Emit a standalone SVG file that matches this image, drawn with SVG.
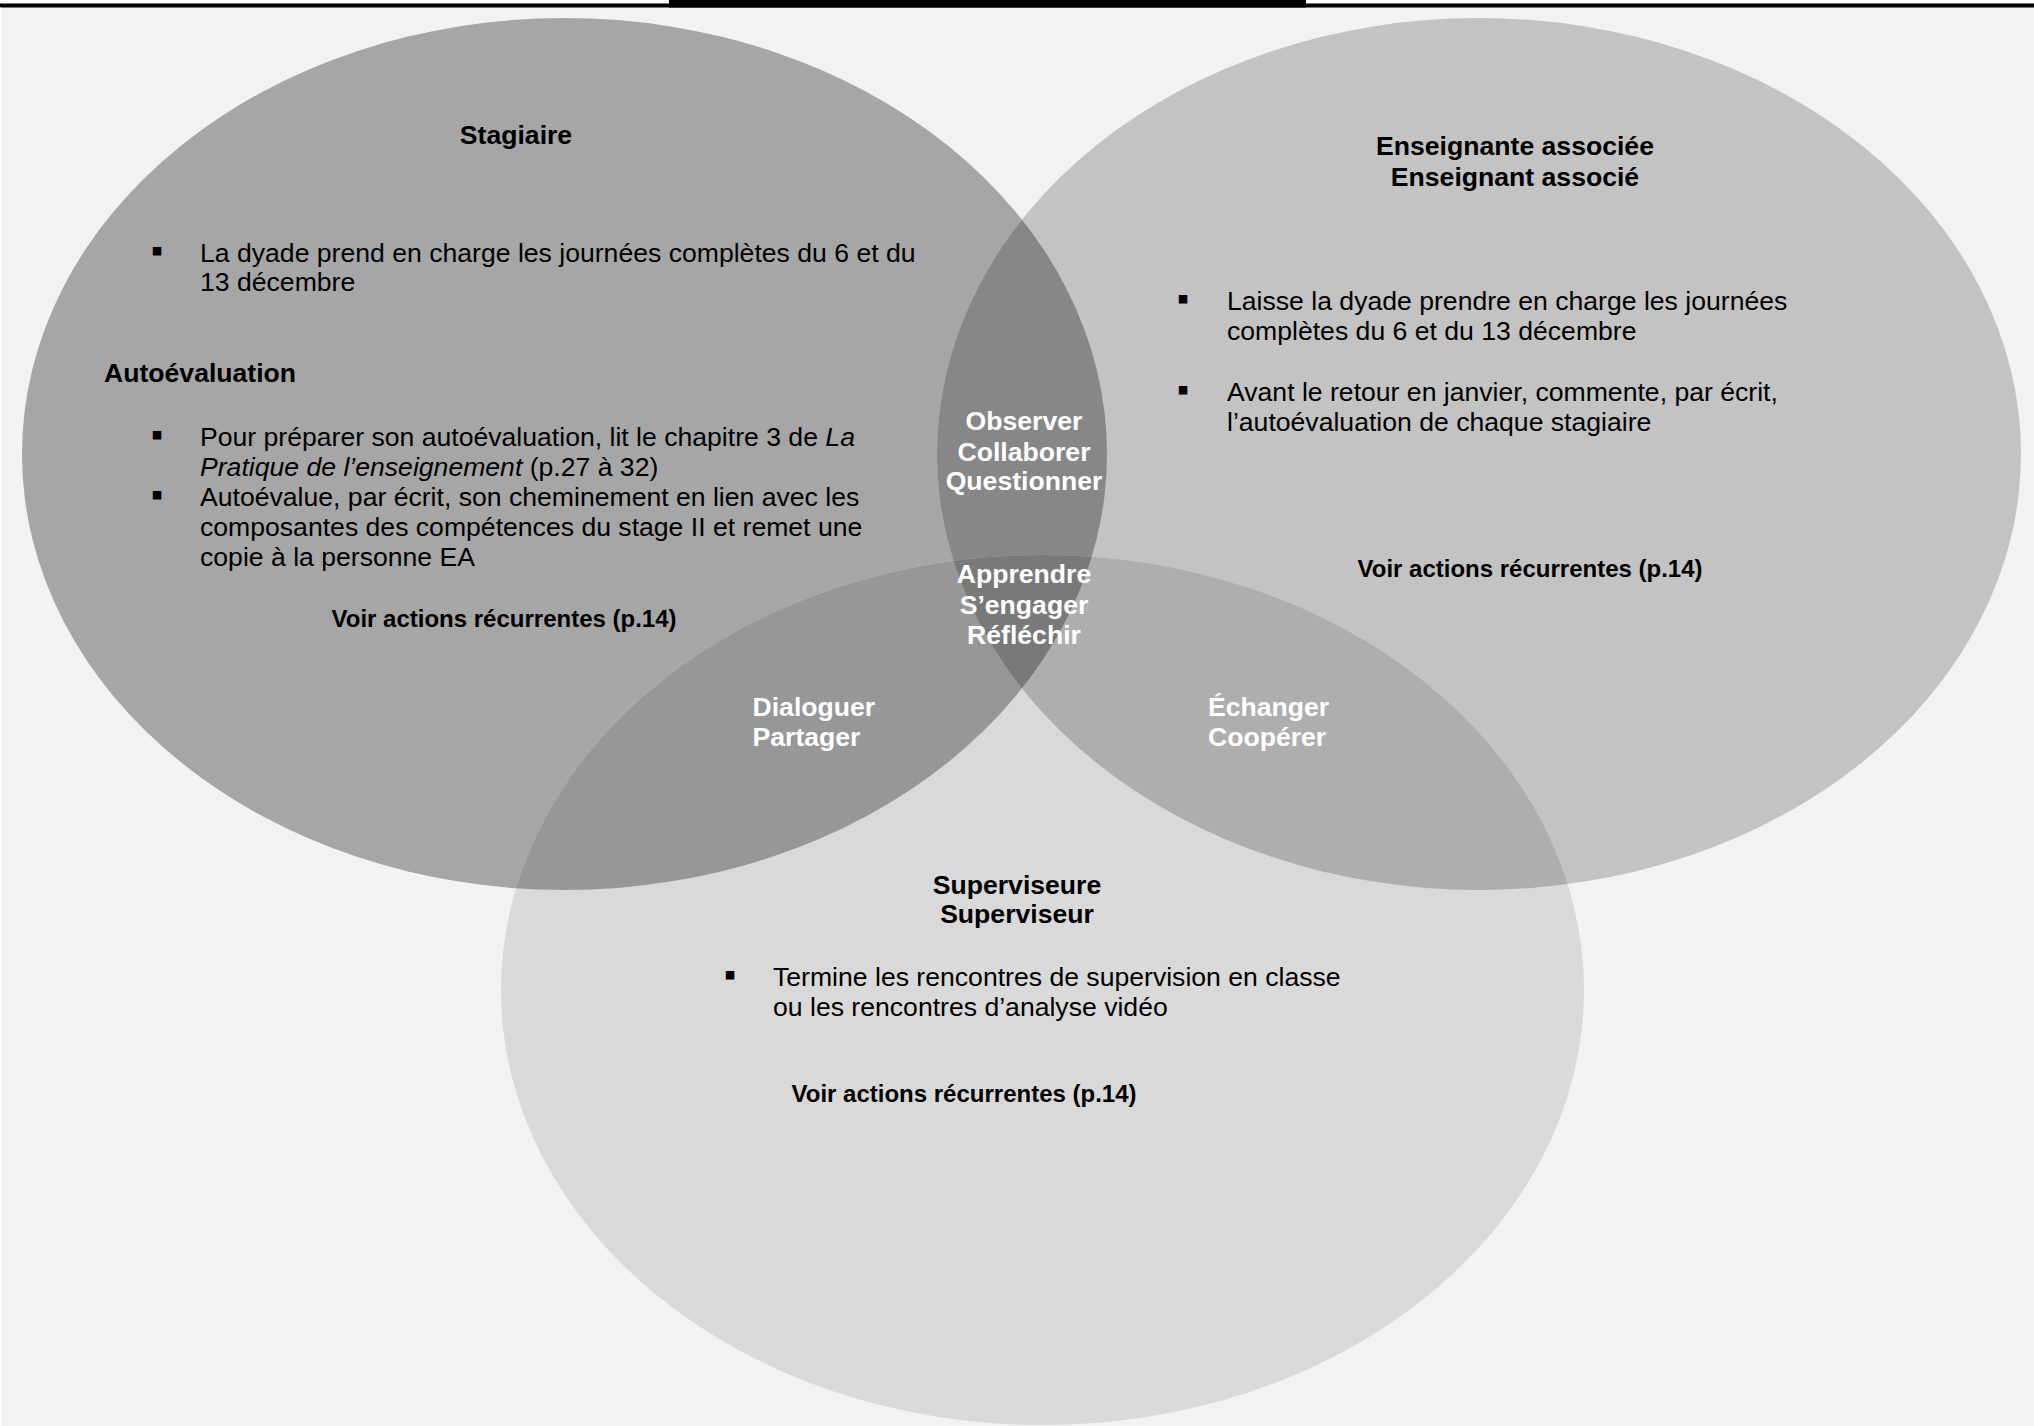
<svg xmlns="http://www.w3.org/2000/svg" width="2034" height="1426" viewBox="0 0 2034 1426">
<style>
.t{font-family:"Liberation Sans",Arial,sans-serif;font-size:26.6px;fill:#000}
.b{font-weight:bold}
.m{text-anchor:middle}
.v{font-size:24px;font-weight:bold;text-anchor:middle}
.w{fill:#fff;font-weight:bold;text-anchor:middle}
.wl{fill:#fff;font-weight:bold}
.bul{font-size:34px}
</style>
<defs>
<clipPath id="cL"><ellipse cx="564.5" cy="454" rx="542.5" ry="436"/></clipPath>
<clipPath id="cR"><ellipse cx="1479" cy="454" rx="542" ry="436"/></clipPath>
</defs>
<rect x="0" y="0" width="2034" height="1426" fill="#f2f2f2"/>
<rect x="0" y="0" width="2034" height="3.5" fill="#ffffff"/>
<rect x="0" y="3.5" width="2034" height="4" fill="#000"/>
<rect x="669" y="0" width="637" height="7.5" fill="#000"/>
<rect x="0" y="7.5" width="1" height="1418.5" fill="#ffffff"/>

<g id="shapes">
<ellipse id="eL" cx="564.5" cy="454" rx="542.5" ry="436" fill="#a6a6a6"/>
<ellipse id="eR" cx="1479" cy="454" rx="542" ry="436" fill="#c3c3c3"/>
<ellipse id="eB" cx="1042.5" cy="990" rx="541.5" ry="435" fill="#d9d9d9"/>
<ellipse cx="1479" cy="454" rx="542" ry="436" fill="#878787" clip-path="url(#cL)"/>
<ellipse cx="1042.5" cy="990" rx="541.5" ry="435" fill="#979797" clip-path="url(#cL)"/>
<ellipse cx="1042.5" cy="990" rx="541.5" ry="435" fill="#aeaeae" clip-path="url(#cR)"/>
<g clip-path="url(#cL)"><ellipse cx="1042.5" cy="990" rx="541.5" ry="435" fill="#797979" clip-path="url(#cR)"/></g>
</g>

<g id="stagiaire" class="t">
<text x="516" y="143.5" class="b m">Stagiaire</text>
<text x="151" y="261.5" class="bul">▪</text>
<text x="200" y="261.5">La dyade prend en charge les journées complètes du 6 et du</text>
<text x="200" y="291">13 décembre</text>
<text x="104" y="381.5" class="b">Autoévaluation</text>
<text x="151" y="445.5" class="bul">▪</text>
<text x="200" y="445.5">Pour préparer son autoévaluation, lit le chapitre 3 de <tspan font-style="italic">La</tspan></text>
<text x="200" y="475.5"><tspan font-style="italic">Pratique de l’enseignement</tspan> (p.27 à 32)</text>
<text x="151" y="506" class="bul">▪</text>
<text x="200" y="506">Autoévalue, par écrit, son cheminement en lien avec les</text>
<text x="200" y="536">composantes des compétences du stage II et remet une</text>
<text x="200" y="566">copie à la personne EA</text>
<text x="504" y="626.5" class="v">Voir actions récurrentes (p.14)</text>
</g>

<g id="enseignant" class="t">
<text x="1515" y="155" class="b m">Enseignante associée</text>
<text x="1515" y="185.5" class="b m">Enseignant associé</text>
<text x="1177" y="310" class="bul">▪</text>
<text x="1227" y="310">Laisse la dyade prendre en charge les journées</text>
<text x="1227" y="339.5">complètes du 6 et du 13 décembre</text>
<text x="1177" y="401" class="bul">▪</text>
<text x="1227" y="401">Avant le retour en janvier, commente, par écrit,</text>
<text x="1227" y="430.5">l’autoévaluation de chaque stagiaire</text>
<text x="1530" y="576.5" class="v">Voir actions récurrentes (p.14)</text>
</g>

<g id="superviseur" class="t">
<text x="1017" y="893.5" class="b m">Superviseure</text>
<text x="1017" y="923" class="b m">Superviseur</text>
<text x="724" y="986" class="bul">▪</text>
<text x="773" y="986">Termine les rencontres de supervision en classe</text>
<text x="773" y="1015.5">ou les rencontres d’analyse vidéo</text>
<text x="964" y="1102" class="v">Voir actions récurrentes (p.14)</text>
</g>

<g id="stagiaire-enseignant" class="t">
<text x="1024" y="430" class="w">Observer</text>
<text x="1024" y="460.5" class="w">Collaborer</text>
<text x="1024" y="490" class="w">Questionner</text>
</g>
<g id="centre" class="t">
<text x="1024" y="583" class="w">Apprendre</text>
<text x="1024" y="613.5" class="w">S’engager</text>
<text x="1024" y="644" class="w">Réfléchir</text>
</g>
<g id="stagiaire-superviseur" class="t">
<text x="752.5" y="716" class="wl">Dialoguer</text>
<text x="752.5" y="745.5" class="wl">Partager</text>
</g>
<g id="enseignant-superviseur" class="t">
<text x="1208" y="716" class="wl">Échanger</text>
<text x="1208" y="745.5" class="wl">Coopérer</text>
</g>
</svg>
